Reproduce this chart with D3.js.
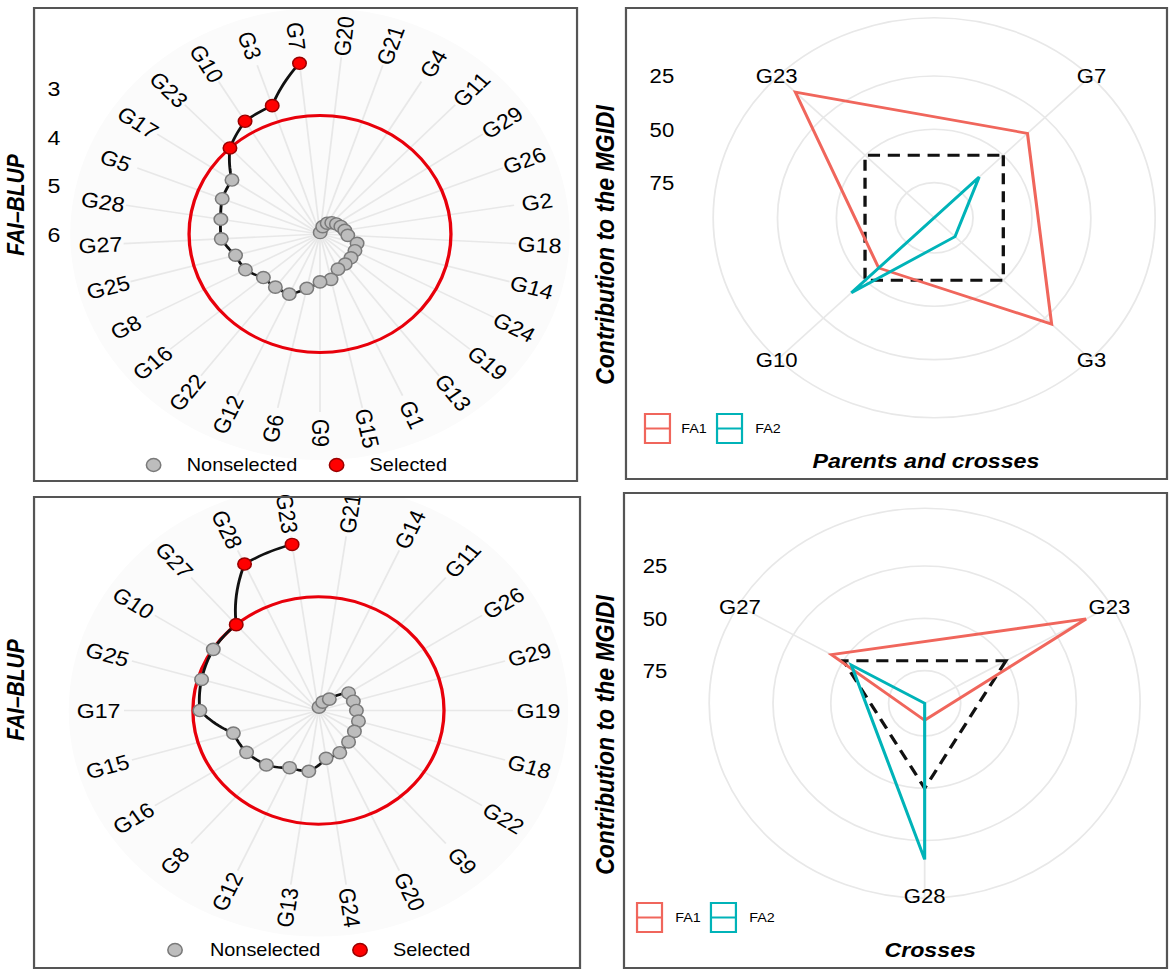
<!DOCTYPE html>
<html>
<head>
<meta charset="utf-8">
<script src="https://cdn.jsdelivr.net/npm/d3@7"></script>
<style>
  body { margin: 0; background: #fff; }
  svg text { font-family: "Liberation Sans", Arial, sans-serif; fill: #000; }
</style>
</head>
<body>
<div id="chart"></div>
<script>
// FAI-BLUP, parents and crosses (clockwise from the top)
var parentGenotypes = ["G20", "G21", "G4", "G11", "G29", "G26", "G2", "G18", "G14", "G24",
  "G19", "G13", "G1", "G15", "G9", "G6", "G12", "G22", "G16", "G8",
  "G25", "G27", "G28", "G5", "G17", "G23", "G10", "G3", "G7"];
var parentFaiBlup = [5.97, 5.84, 5.74, 5.68, 5.63, 5.58, 5.53, 5.48, 5.28, 5.26,
  5.24, 5.22, 5.2, 5.04, 5.01, 4.85, 4.63, 4.62, 4.61, 4.42,
  4.36, 4.15, 4.12, 4.03, 4.01, 3.55, 3.28, 3.2, 2.45];
var parentSelected = ["G7", "G3", "G10", "G23"];

// FAI-BLUP, crosses
var crossGenotypes = ["G21", "G14", "G11", "G26", "G29", "G19", "G18", "G22", "G9", "G20",
  "G24", "G13", "G12", "G8", "G16", "G15", "G17", "G25", "G10", "G27", "G28", "G23"];
var crossFaiBlup = [5.93, 5.81, 5.69, 5.33, 5.32, 5.29, 5.22, 5.2, 5.14, 5.04,
  5.0, 4.73, 4.7, 4.51, 4.4, 4.34, 3.78, 3.72, 3.66, 3.65, 2.67, 2.53];
var crossSelected = ["G23", "G28", "G27"];

var faiTicks = [3, 4, 5, 6];

// contribution of each factor to the MGIDI
var contribTicks = [25, 50, 75];
var equalContrib = 50;
var parentsSelected = ["G7", "G3", "G10", "G23"];
var parentsFA1 = [35.5, 21, 58.2, 8.2];
var parentsFA2 = [64.5, 79, 41.8, 91.5];
var crossesSelected = ["G23", "G28", "G27"];
var crossesFA1 = [10, 82.5, 44];
var crossesFA2 = [90.6, 16, 54];

var factorNames = ["FA1", "FA2"];
var factorColors = ["#F0665C", "#00B3B8"];

var W = 1174, H = 977, sx = 1.105;
var svg = d3.select("#chart").append("svg")
  .attr("width", W)
  .attr("height", H)
  .attr("viewBox", "0 0 " + W / sx + " " + H)
  .attr("preserveAspectRatio", "none");

var frames = {
  tl: [30.8, 8, 522.2, 481],
  tr: [566.5, 8, 1056.1, 479],
  bl: [30.8, 497, 524.9, 968],
  br: [564.7, 493, 1056.1, 968]
};

drawSpiral({
  id: "tl", cx: 289.6, cy: 234, genotypes: parentGenotypes, values: parentFaiBlup,
  selected: parentSelected, vOuter: 2.32, rOuter: 178, rLabel: 199,
  ticks: faiTicks, tickX: 48.9,
  legendY: 465, legendX: [139, 169, 304.6, 334.5], titleY: 205
});
drawSpiral({
  id: "bl", cx: 288.2, cy: 710.5, genotypes: crossGenotypes, values: crossFaiBlup,
  selected: crossSelected, vOuter: 2.36, rOuter: 176, rLabel: 199,
  ticks: [], tickX: 0,
  legendY: 950, legendX: [158.4, 190, 325.8, 355.6], titleY: 690
});

drawRadar({
  cx: 845.4, cy: 217.8, cats: parentsSelected, fa1: parentsFA1, fa2: parentsFA2,
  domain: [91.5, -2.3], rOuter: 200, rLabel: 201.5, tickX: 599,
  title: "Parents and crosses", titleX: 838, titleY: 460,
  legendY: 414, legendX: [583.7, 628, 648.9, 695], ytitleY: 245
});
drawRadar({
  cx: 836.8, cy: 703.3, cats: crossesSelected, fa1: crossesFA1, fa2: crossesFA2,
  domain: [90.6, -2.6], rOuter: 195, rLabel: 193, tickX: 592.7,
  title: "Crosses", titleX: 841.8, titleY: 949,
  legendY: 903, legendX: [576.5, 622.6, 643.4, 689.6], ytitleY: 735
});

Object.keys(frames).forEach(function (k) {
  drawFrame(frames[k]);
});

function drawFrame(f) {
  svg.append("rect")
    .attr("x", f[0]).attr("y", f[1])
    .attr("width", f[2] - f[0]).attr("height", f[3] - f[1])
    .attr("fill", "none")
    .attr("stroke", "#555")
    .attr("stroke-width", 2);
}

function drawSpiral(p) {
  var f = frames[p.id];
  svg.append("clipPath").attr("id", "clip-" + p.id)
    .append("rect")
    .attr("x", f[0] - p.cx).attr("y", f[1] - p.cy)
    .attr("width", f[2] - f[0]).attr("height", f[3] - f[1]);

  var g = svg.append("g").attr("transform", "translate(" + p.cx + "," + p.cy + ")");
  var theta = d3.scaleBand().domain(p.genotypes).range([0, 2 * Math.PI]);
  var ang = function (d) {
    return theta(d) + theta.bandwidth() / 2;
  };
  var r = d3.scaleLinear().domain([6, p.vOuter]).range([0, p.rOuter]);
  var data = p.genotypes.map(function (d, i) {
    return { name: d, value: p.values[i], sel: p.selected.indexOf(d) >= 0 };
  });

  g.append("circle")
    .attr("r", 226)
    .attr("fill", "#fbfbfb")
    .attr("clip-path", "url(#clip-" + p.id + ")");

  g.selectAll(".spoke")
    .data(p.genotypes)
    .enter()
    .append("line")
    .attr("x1", 0).attr("y1", 0)
    .attr("x2", function (d) { return d3.pointRadial(ang(d), p.rOuter)[0]; })
    .attr("y2", function (d) { return d3.pointRadial(ang(d), p.rOuter)[1]; })
    .attr("stroke", "#e8e8e8")
    .attr("stroke-width", 1.6);

  g.selectAll(".glab")
    .data(p.genotypes)
    .enter()
    .append("text")
    .attr("transform", function (d) {
      var pt = d3.pointRadial(ang(d), p.rLabel);
      var deg = ang(d) * 180 / Math.PI;
      var rot = deg - 90;
      if (deg > 180.5) rot -= 180;
      return "translate(" + pt[0] + "," + pt[1] + ") rotate(" + rot + ")";
    })
    .attr("text-anchor", "middle")
    .attr("dy", "0.36em")
    .style("font-size", "21px")
    .text(function (d) { return d; });

  g.selectAll(".tick")
    .data(p.ticks)
    .enter()
    .append("text")
    .attr("x", p.tickX - p.cx)
    .attr("y", function (d) { return -r(d); })
    .attr("text-anchor", "middle")
    .attr("dy", "0.36em")
    .style("font-size", "21px")
    .text(function (d) { return d; });

  // cutoff: the last selected genotype
  var cut = d3.max(data.filter(function (d) { return d.sel; }), function (d) { return d.value; });
  g.append("circle")
    .attr("r", r(cut))
    .attr("fill", "none")
    .attr("stroke", "#e8000b")
    .attr("stroke-width", 3);

  // path is straight in polar space, so it bends on screen
  var munched = [];
  for (var i = 0; i < data.length - 1; i++) {
    for (var k = 0; k < 12; k++) {
      var t = k / 12;
      munched.push([
        ang(data[i].name) + t * (ang(data[i + 1].name) - ang(data[i].name)),
        r(data[i].value) + t * (r(data[i + 1].value) - r(data[i].value))
      ]);
    }
  }
  munched.push([ang(data[data.length - 1].name), r(data[data.length - 1].value)]);
  g.append("path")
    .attr("d", d3.lineRadial()(munched))
    .attr("fill", "none")
    .attr("stroke", "#111")
    .attr("stroke-width", 2.6);

  g.selectAll(".pt")
    .data(data)
    .enter()
    .append("circle")
    .attr("cx", function (d) { return d3.pointRadial(ang(d.name), r(d.value))[0]; })
    .attr("cy", function (d) { return d3.pointRadial(ang(d.name), r(d.value))[1]; })
    .attr("r", 6.1)
    .attr("fill", function (d) { return d.sel ? "#ff0000" : "#bdbdbd"; })
    .attr("stroke", function (d) { return d.sel ? "#9a0000" : "#7a7a7a"; })
    .attr("stroke-width", 1.4);

  // legend
  var lg = svg.append("g");
  lg.append("circle").attr("cx", p.legendX[0]).attr("cy", p.legendY).attr("r", 6.5)
    .attr("fill", "#bdbdbd").attr("stroke", "#7a7a7a").attr("stroke-width", 1.4);
  lg.append("text").attr("x", p.legendX[1]).attr("y", p.legendY).attr("dy", "0.36em")
    .style("font-size", "18px").text("Nonselected");
  lg.append("circle").attr("cx", p.legendX[2]).attr("cy", p.legendY).attr("r", 6.5)
    .attr("fill", "#ff0000").attr("stroke", "#9a0000").attr("stroke-width", 1.4);
  lg.append("text").attr("x", p.legendX[3]).attr("y", p.legendY).attr("dy", "0.36em")
    .style("font-size", "18px").text("Selected");

  svg.append("text")
    .attr("transform", "translate(14.5," + p.titleY + ") rotate(-90)")
    .attr("text-anchor", "middle")
    .attr("dy", "0.36em")
    .style("font-size", "21px")
    .style("font-weight", "bold")
    .style("font-style", "italic")
    .text("FAI\u2013BLUP");
}

function drawRadar(p) {
  var g = svg.append("g").attr("transform", "translate(" + p.cx + "," + p.cy + ")");
  var theta = d3.scaleBand().domain(p.cats).range([0, 2 * Math.PI]);
  var ang = function (d) {
    return theta(d) + theta.bandwidth() / 2;
  };
  var r = d3.scaleLinear().domain(p.domain).range([0, p.rOuter]);

  g.selectAll(".grid")
    .data(contribTicks.concat([p.domain[1]]))
    .enter()
    .append("circle")
    .attr("r", function (d) { return r(d); })
    .attr("fill", "none")
    .attr("stroke", "#e8e8e8")
    .attr("stroke-width", 1.6);

  g.selectAll(".spoke")
    .data(p.cats)
    .enter()
    .append("line")
    .attr("x1", 0).attr("y1", 0)
    .attr("x2", function (d) { return d3.pointRadial(ang(d), p.rOuter)[0]; })
    .attr("y2", function (d) { return d3.pointRadial(ang(d), p.rOuter)[1]; })
    .attr("stroke", "#e8e8e8")
    .attr("stroke-width", 1.6);

  g.selectAll(".tick")
    .data(contribTicks)
    .enter()
    .append("text")
    .attr("x", p.tickX - p.cx)
    .attr("y", function (d) { return -r(d); })
    .attr("text-anchor", "middle")
    .attr("dy", "0.36em")
    .style("font-size", "20px")
    .text(function (d) { return d; });

  g.selectAll(".clab")
    .data(p.cats)
    .enter()
    .append("text")
    .attr("x", function (d) { return d3.pointRadial(ang(d), p.rLabel)[0]; })
    .attr("y", function (d) { return d3.pointRadial(ang(d), p.rLabel)[1]; })
    .attr("text-anchor", "middle")
    .attr("dy", "0.36em")
    .style("font-size", "20px")
    .text(function (d) { return d; });

  var radar = d3.lineRadial()
    .angle(function (d) { return ang(d.cat); })
    .radius(function (d) { return r(d.v); })
    .curve(d3.curveLinearClosed);

  g.append("path")
    .attr("d", radar(p.cats.map(function (c) { return { cat: c, v: equalContrib }; })))
    .attr("fill", "none")
    .attr("stroke", "#111")
    .attr("stroke-width", 3)
    .attr("stroke-dasharray", "11,7");

  [p.fa1, p.fa2].forEach(function (vals, j) {
    g.append("path")
      .attr("d", radar(p.cats.map(function (c, i) { return { cat: c, v: vals[i] }; })))
      .attr("fill", "none")
      .attr("stroke", factorColors[j])
      .attr("stroke-width", 2.8)
      .attr("stroke-linejoin", "miter");
  });

  // legend
  var lg = svg.append("g");
  factorNames.forEach(function (name, j) {
    var x0 = p.legendX[j * 2];
    lg.append("rect").attr("x", x0).attr("y", p.legendY)
      .attr("width", 22.6).attr("height", 29)
      .attr("fill", "none").attr("stroke", factorColors[j]).attr("stroke-width", 2);
    lg.append("line").attr("x1", x0).attr("x2", x0 + 22.6)
      .attr("y1", p.legendY + 14.5).attr("y2", p.legendY + 14.5)
      .attr("stroke", factorColors[j]).attr("stroke-width", 2);
    lg.append("text").attr("x", p.legendX[j * 2 + 1]).attr("y", p.legendY + 14.5)
      .attr("text-anchor", "middle").attr("dy", "0.36em")
      .style("font-size", "13px").text(name);
  });

  svg.append("text")
    .attr("x", p.titleX).attr("y", p.titleY)
    .attr("text-anchor", "middle")
    .attr("dy", "0.36em")
    .style("font-size", "21px")
    .style("font-weight", "bold")
    .style("font-style", "italic")
    .text(p.title);

  svg.append("text")
    .attr("transform", "translate(547.5," + p.ytitleY + ") rotate(-90)")
    .attr("text-anchor", "middle")
    .attr("dy", "0.36em")
    .style("font-size", "23px")
    .style("font-weight", "bold")
    .style("font-style", "italic")
    .text("Contribution to the MGIDI");
}
</script>
</body>
</html>
